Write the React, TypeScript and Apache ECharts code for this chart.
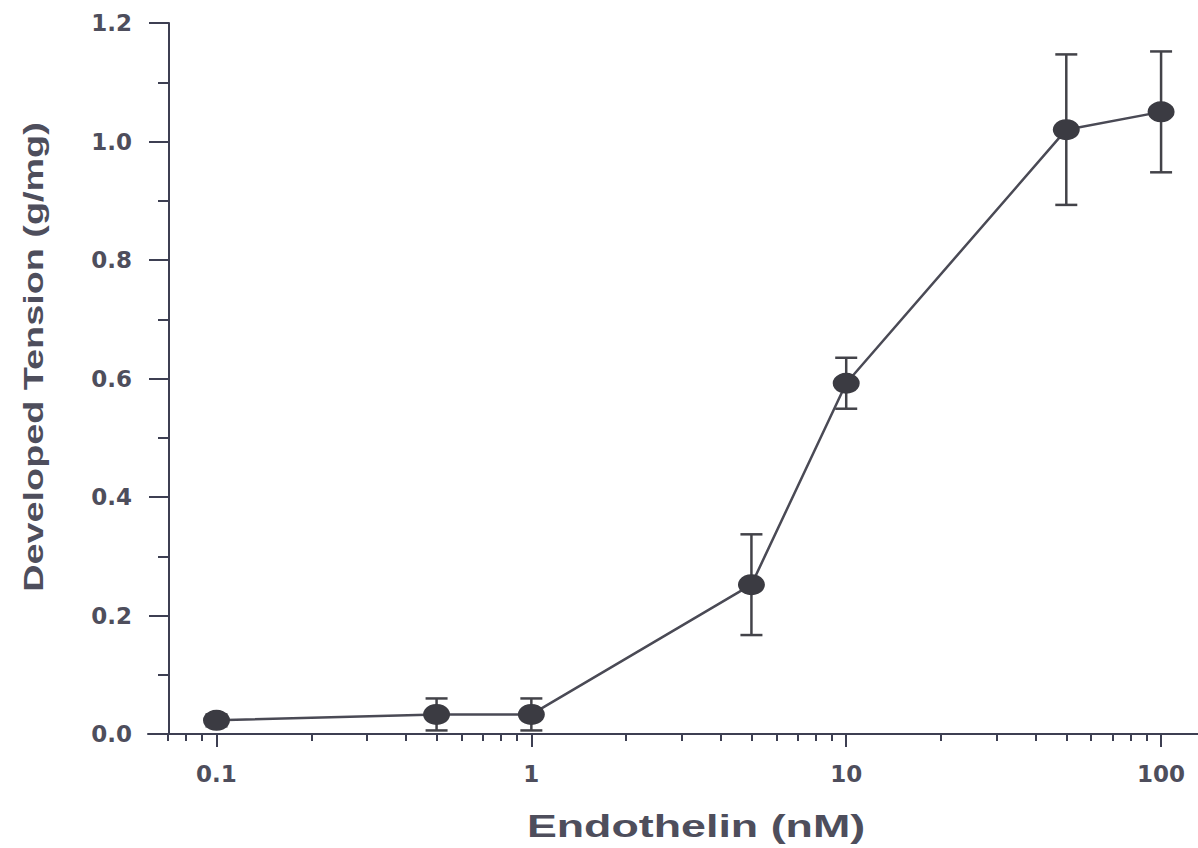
import React, { useEffect, useRef } from "react";
import * as echarts from "echarts";

// Data
const concentrations = [0.1, 0.5, 1, 5, 10, 50, 100]; // nM
const tension = [0.023, 0.033, 0.033, 0.252, 0.592, 1.02, 1.05]; // g/mg
const errors = [0.01, 0.027, 0.027, 0.085, 0.043, 0.127, 0.102];

const xMajorTicks = [0.1, 1, 10, 100];
const xMinorTicks = [
  0.07, 0.08, 0.09,
  0.2, 0.3, 0.4, 0.5, 0.6, 0.7, 0.8, 0.9,
  2, 3, 4, 5, 6, 7, 8, 9,
  20, 30, 40, 50, 60, 70, 80, 90,
];
const yMin = 0;
const yMax = 1.2;
const yInterval = 0.2;

const xTitle = "Endothelin (nM)";
const yTitle = "Developed Tension (g/mg)";

const AXIS_COLOR = "#3d3f52";
const TEXT_COLOR = "#4e4e5c";
const MARK_COLOR = "#3b3b42";

export default function App() {
  const ref = useRef<HTMLDivElement>(null);

  useEffect(() => {
    document.body.style.margin = "0";
    const chart = echarts.init(ref.current!, null, { renderer: "svg" });

    const xMin = 0.0606;
    const xMax = 131;

    const points = concentrations.map((c, i) => [c, tension[i]]);
    const errData = concentrations.map((c, i) => [c, tension[i] - errors[i], tension[i] + errors[i]]);

    const labelFmt = (v: number) => (v < 1 ? v.toFixed(1) : String(Math.round(v)));

    chart.setOption({
      animation: false,
      backgroundColor: "#ffffff",
      grid: {
        left: 148,
        right: 0,
        top: 23,
        bottom: 114,
        containLabel: false,
        outerBoundsMode: "none",
      },
      xAxis: [
        {
          type: "log",
          min: xMin,
          max: xMax,
          position: "bottom",
          axisLine: { show: true, lineStyle: { color: AXIS_COLOR, width: 2 } },
          axisTick: {
            show: true,
            length: 13,
            customValues: xMajorTicks,
            lineStyle: { color: AXIS_COLOR, width: 2 },
          },
          axisLabel: {
            show: true,
            customValues: xMajorTicks,
            formatter: labelFmt,
            margin: 28,
            fontFamily: "DejaVu Sans",
            fontWeight: "bold",
            fontSize: 23,
            color: TEXT_COLOR,
          },
          splitLine: { show: false },
        },
        {
          type: "log",
          min: xMin,
          max: xMax,
          position: "bottom",
          offset: 0,
          axisLine: { show: false },
          axisTick: {
            show: true,
            length: 7,
            customValues: xMinorTicks,
            lineStyle: { color: AXIS_COLOR, width: 2 },
          },
          axisLabel: { show: false },
          splitLine: { show: false },
        },
      ],
      yAxis: {
        type: "value",
        min: yMin,
        max: yMax,
        interval: yInterval,
        offset: -21,
        axisLine: { show: true, lineStyle: { color: AXIS_COLOR, width: 2 } },
        axisTick: { show: true, length: 20, lineStyle: { color: AXIS_COLOR, width: 2 } },
        minorTick: { show: true, splitNumber: 2, length: 11, lineStyle: { color: AXIS_COLOR, width: 2 } },
        axisLabel: {
          formatter: (v: number) => v.toFixed(1),
          margin: 37,
          fontFamily: "DejaVu Sans",
          fontWeight: "bold",
          fontSize: 23,
          color: TEXT_COLOR,
        },
        splitLine: { show: false },
      },
      graphic: [
        {
          type: "text",
          x: 696,
          y: 826,
          scaleX: 1.4,
          style: {
            text: xTitle,
            fontFamily: "Liberation Sans",
            fontWeight: "bold",
            fontSize: 32,
            fill: TEXT_COLOR,
            align: "center",
            verticalAlign: "middle",
          },
        },
        {
          type: "text",
          x: 33,
          y: 357,
          rotation: Math.PI / 2,
          scaleX: 1.35,
          style: {
            text: yTitle,
            fontFamily: "Liberation Sans",
            fontWeight: "bold",
            fontSize: 28,
            fill: TEXT_COLOR,
            align: "center",
            verticalAlign: "middle",
          },
        },
      ],
      series: [
        {
          type: "line",
          xAxisIndex: 0,
          data: points,
          symbol: "circle",
          symbolSize: [27, 21],
          lineStyle: { color: "#4a4a55", width: 2.5 },
          itemStyle: { color: MARK_COLOR },
          z: 3,
        },
        {
          type: "custom",
          xAxisIndex: 0,
          data: errData,
          z: 2,
          renderItem: (params: any, api: any) => {
            const x = api.value(0);
            const lo = api.coord([x, api.value(1)]);
            const hi = api.coord([x, api.value(2)]);
            const half = 11;
            const style = { stroke: "#434349", lineWidth: 2.5 };
            return {
              type: "group",
              children: [
                { type: "line", shape: { x1: lo[0], y1: lo[1], x2: hi[0], y2: hi[1] }, style },
                { type: "line", shape: { x1: lo[0] - half, y1: lo[1], x2: lo[0] + half, y2: lo[1] }, style },
                { type: "line", shape: { x1: hi[0] - half, y1: hi[1], x2: hi[0] + half, y2: hi[1] }, style },
              ],
            };
          },
        },
      ],
    });

    return () => chart.dispose();
  }, []);

  return <div ref={ref} style={{ width: 1198, height: 848 }} />;
}
